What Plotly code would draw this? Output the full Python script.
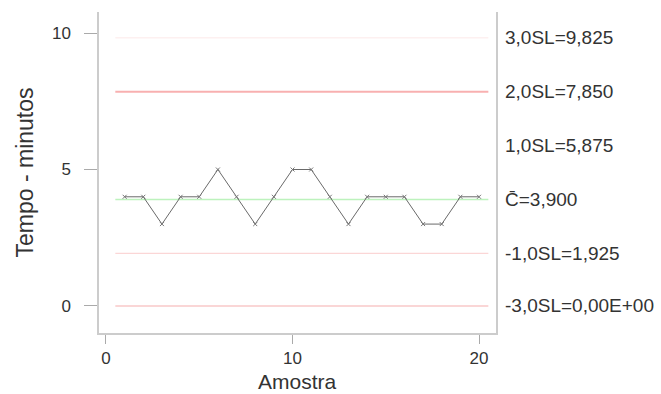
import plotly.graph_objects as go

amostra = list(range(1, 21))
tempo = [4, 4, 3, 4, 4, 5, 4, 3, 4, 5, 5, 4, 3, 4, 4, 4, 3, 3, 4, 4]

limit_values = [9.825, 7.850, 5.875, 3.900, 1.925, 0.0]
limit_labels = ["3,0SL=9,825", "2,0SL=7,850", "1,0SL=5,875", "C\u0304=3,900",
                "-1,0SL=1,925", "-3,0SL=0,00E+00"]
limit_colors = ["#fdf0f0", "#f8b0b0", "#ffffff", "#bdf2bd", "#fbd6d6", "#f9c8c8"]
limit_widths = [1.5, 2, 1, 1.5, 1.2, 1.5]
line_span = [0.5, 20.5]

fig = go.Figure()

for v, c, w in zip(limit_values, limit_colors, limit_widths):
    fig.add_trace(go.Scatter(x=line_span, y=[v, v], mode="lines",
                             line=dict(color=c, width=w), hoverinfo="skip",
                             showlegend=False))

fig.add_trace(go.Scatter(x=amostra, y=tempo, mode="lines+markers",
                         line=dict(color="#6a6a6a", width=1),
                         marker=dict(symbol="x-thin", size=4,
                                     line=dict(color="#777777", width=1)),
                         showlegend=False))

for v, t in zip(limit_values, limit_labels):
    fig.add_annotation(x=1, xref="paper", y=v, yref="y", text=t,
                       showarrow=False, xanchor="left", yanchor="middle",
                       xshift=7, font=dict(size=19, color="#333333",
                                           family="Liberation Sans, Arial"))

# x-axis title as annotation for precise placement
fig.add_annotation(x=0.5, xref="paper", y=0, yref="paper", text="Amostra",
                   showarrow=False, xanchor="center", yanchor="top",
                   yshift=-35, font=dict(size=21, color="#333333",
                                         family="Liberation Sans, Arial"))

fig.update_layout(
    width=661, height=394,
    margin=dict(l=99, r=165, t=12, b=61),
    plot_bgcolor="white", paper_bgcolor="white",
    font=dict(family="Liberation Sans, Arial", color="#333333", size=17),
    xaxis=dict(range=[-0.375, 20.91], tickvals=[0, 10, 20],
               automargin=False,
               showgrid=False, zeroline=False, showline=True,
               linecolor="#cccccc", linewidth=1.5,
               ticks="outside", ticklen=9, tickcolor="#aaaaaa",
               ticklabelstandoff=0,
               tickfont=dict(size=17, color="#333333")),
    yaxis=dict(range=[-0.99, 10.77], tickvals=[0, 5, 10],
               automargin=False,
               showgrid=False, zeroline=False, showline=True, mirror=True,
               linecolor="#cccccc", linewidth=1.5,
               ticks="outside", ticklen=13, tickcolor="#aaaaaa",
               ticklabelstandoff=10,
               tickfont=dict(size=17, color="#333333"),
               title=dict(text="Tempo - minutos",
                          font=dict(size=23, color="#333333"), standoff=12)),
)

fig.write_html("out.html")
